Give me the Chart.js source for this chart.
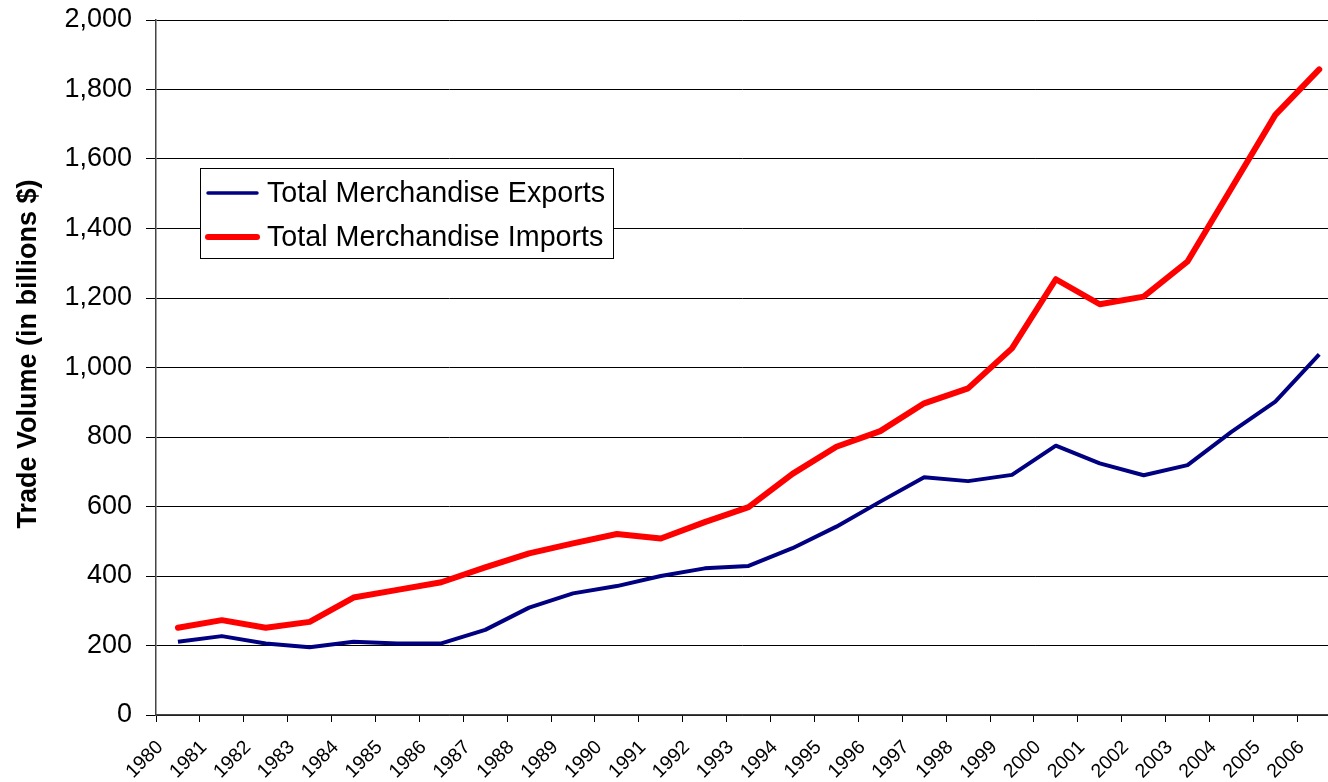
<!DOCTYPE html>
<html>
<head>
<meta charset="utf-8">
<script src="https://cdn.jsdelivr.net/npm/chart.js@4/dist/chart.umd.min.js"></script>
<style>
  html, body { margin: 0; padding: 0; background: #fff; }
  #wrap { width: 1328px; height: 782px; }
</style>
</head>
<body>
<div id="wrap"><canvas id="chart" width="1328" height="782"></canvas></div>
<script>
// years on the x axis
const years = ['1980', '1981', '1982', '1983', '1984', '1985', '1986', '1987', '1988', '1989',
  '1990', '1991', '1992', '1993', '1994', '1995', '1996', '1997', '1998', '1999',
  '2000', '2001', '2002', '2003', '2004', '2005', '2006'];

// billions of dollars
const exportsData = [211, 227, 206, 195, 211, 206, 206, 245, 309, 350,
  371, 400, 422, 429, 480, 542, 614, 684, 673, 691,
  775, 724, 690, 719, 815, 902, 1038];
const importsData = [251, 273, 251, 268, 338, 360, 382, 425, 465, 494,
  521, 508, 555, 598, 694, 772, 817, 897, 940, 1055,
  1254, 1182, 1204, 1305, 1516, 1727, 1858];

const seriesNames = ['Total Merchandise Exports', 'Total Merchandise Imports'];
const seriesColors = ['#000080', '#ff0000'];
const yTitle = 'Trade Volume (in billions $)';

const FONT = '"Liberation Sans", Arial, sans-serif';

// legend box inside the plot + the y title, drawn by hand
const boxLegend = {
  id: 'boxLegend',
  afterDraw(chart) {
    const ctx = chart.ctx;
    ctx.save();
    ctx.fillStyle = '#fff';
    ctx.fillRect(200, 168, 414, 91);
    ctx.strokeStyle = '#000';
    ctx.lineWidth = 1;
    ctx.strokeRect(200.5, 168.5, 413, 90);

    const rows = [193, 237];
    const widths = [3.5, 6];
    ctx.font = '28.7px ' + FONT;
    ctx.textBaseline = 'middle';
    ctx.textAlign = 'left';
    for (let i = 0; i < 2; i++) {
      ctx.beginPath();
      ctx.lineCap = 'round';
      ctx.strokeStyle = seriesColors[i];
      ctx.lineWidth = widths[i];
      ctx.moveTo(208, rows[i]);
      ctx.lineTo(257, rows[i]);
      ctx.stroke();
      ctx.fillStyle = '#000';
      ctx.fillText(seriesNames[i], 267, rows[i] + 1);
    }

    // y axis title
    ctx.translate(29, 354);
    ctx.rotate(-Math.PI / 2);
    ctx.font = 'bold 27px ' + FONT;
    ctx.textAlign = 'center';
    ctx.fillText(yTitle, 0, 0);
    ctx.restore();
  }
};

new Chart(document.getElementById('chart'), {
  type: 'line',
  data: {
    datasets: [
      {
        label: seriesNames[0],
        data: exportsData.map((v, i) => ({ x: i, y: v })),
        borderColor: seriesColors[0],
        borderWidth: 4,
        pointRadius: 0,
        tension: 0,
        borderJoinStyle: 'round'
      },
      {
        label: seriesNames[1],
        data: importsData.map((v, i) => ({ x: i, y: v })),
        borderColor: seriesColors[1],
        borderWidth: 6,
        pointRadius: 0,
        tension: 0,
        borderCapStyle: 'round',
        borderJoinStyle: 'round'
      }
    ]
  },
  options: {
    responsive: false,
    animation: false,
    devicePixelRatio: 1,
    layout: { padding: { top: 20, right: 0, left: 0, bottom: 0 } },
    plugins: {
      legend: { display: false },
      tooltip: { enabled: false }
    },
    scales: {
      x: {
        type: 'linear',
        min: -0.5,
        max: 26.2,
        afterBuildTicks: (scale) => {
          scale.ticks = years.map((_, i) => ({ value: i - 0.5 }));
        },
        afterFit: (scale) => {
          scale.height = 67;
          scale.paddingRight = 0;
        },
        grid: {
          drawOnChartArea: false,
          drawTicks: true,
          tickLength: 7,
          color: '#000'
        },
        border: { display: true, color: '#444', width: 1.5 },
        ticks: {
          autoSkip: false,
          maxRotation: 45,
          minRotation: 45,
          padding: 14,
          labelOffset: 4,
          color: '#000',
          font: { family: FONT, size: 19.5 },
          callback: (v, i) => years[i]
        }
      },
      y: {
        min: 0,
        max: 2000,
        afterFit: (scale) => {
          scale.width = 156;
          scale.paddingTop = 0;
          scale.paddingBottom = 0;
        },
        grid: {
          color: '#000',
          lineWidth: 1,
          tickLength: 10,
          drawTicks: true
        },
        border: { display: true, color: '#444', width: 1.5 },
        ticks: {
          stepSize: 200,
          padding: 14,
          color: '#000',
          font: { family: FONT, size: 27 },
          callback: (v) => v.toLocaleString('en-US')
        }
      }
    }
  },
  plugins: [boxLegend]
});
</script>
</body>
</html>
